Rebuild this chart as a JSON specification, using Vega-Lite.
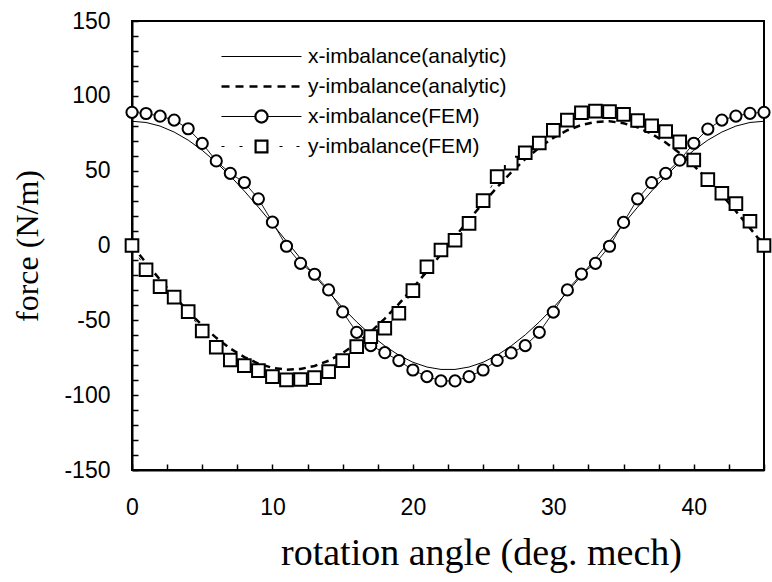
{
  "$schema": "https://vega.github.io/schema/vega-lite/v6.json",
  "width": 632,
  "height": 449,
  "autosize": "none",
  "padding": {"left": 132, "top": 21, "right": 8, "bottom": 112},
  "background": "white",
  "config": {
    "view": {"stroke": "black", "strokeWidth": 2},
    "axis": {
      "grid": false,
      "domainColor": "black",
      "domainWidth": 2,
      "tickColor": "black",
      "tickWidth": 1.5,
      "tickSize": -6,
      "labelFont": "Liberation Sans",
      "labelFontSize": 23,
      "labelColor": "black",
      "titleFont": "Liberation Serif",
      "titleFontWeight": "normal",
      "titleColor": "black"
    }
  },
  "datasets": {
    "curves": [
      {"angle": 0, "xa": 83, "ya": 0, "xf": 89, "yf": 0},
      {"angle": 1, "xa": 82.2, "ya": -11.6, "xf": 88.2, "yf": -16.2},
      {"angle": 2, "xa": 79.8, "ya": -22.9, "xf": 86.4, "yf": -27.5},
      {"angle": 3, "xa": 75.8, "ya": -33.8, "xf": 83.8, "yf": -34.5},
      {"angle": 4, "xa": 70.4, "ya": -44.0, "xf": 78, "yf": -44.2},
      {"angle": 5, "xa": 63.6, "ya": -53.4, "xf": 68.2, "yf": -57.1},
      {"angle": 6, "xa": 55.5, "ya": -61.7, "xf": 56.5, "yf": -68},
      {"angle": 7, "xa": 46.4, "ya": -68.8, "xf": 48.2, "yf": -76.5},
      {"angle": 8, "xa": 36.4, "ya": -74.6, "xf": 42.1, "yf": -80.3},
      {"angle": 9, "xa": 25.6, "ya": -78.9, "xf": 31.2, "yf": -83.6},
      {"angle": 10, "xa": 14.4, "ya": -81.7, "xf": 15.6, "yf": -87.6},
      {"angle": 11, "xa": 2.9, "ya": -83.0, "xf": -0.5, "yf": -89.8},
      {"angle": 12, "xa": -8.7, "ya": -82.5, "xf": -11.9, "yf": -89.5},
      {"angle": 13, "xa": -20.1, "ya": -80.5, "xf": -19.2, "yf": -88.3},
      {"angle": 14, "xa": -31.1, "ya": -77.0, "xf": -29.7, "yf": -84.3},
      {"angle": 15, "xa": -41.5, "ya": -71.9, "xf": -44.4, "yf": -76.9},
      {"angle": 16, "xa": -51.1, "ya": -65.4, "xf": -58, "yf": -67.6},
      {"angle": 17, "xa": -59.7, "ya": -57.7, "xf": -66.9, "yf": -60.9},
      {"angle": 18, "xa": -67.1, "ya": -48.8, "xf": -71.6, "yf": -55.3},
      {"angle": 19, "xa": -73.3, "ya": -39.0, "xf": -76.9, "yf": -45.3},
      {"angle": 20, "xa": -78.0, "ya": -28.4, "xf": -83.2, "yf": -30.2},
      {"angle": 21, "xa": -81.2, "ya": -17.3, "xf": -87.6, "yf": -14.2},
      {"angle": 22, "xa": -82.8, "ya": -5.8, "xf": -90.5, "yf": -3},
      {"angle": 23, "xa": -82.8, "ya": 5.8, "xf": -90.5, "yf": 3.5},
      {"angle": 24, "xa": -81.2, "ya": 17.3, "xf": -87.6, "yf": 14.8},
      {"angle": 25, "xa": -78.0, "ya": 28.4, "xf": -83.2, "yf": 30},
      {"angle": 26, "xa": -73.3, "ya": 39.0, "xf": -76.8, "yf": 46},
      {"angle": 27, "xa": -67.1, "ya": 48.8, "xf": -71.8, "yf": 55},
      {"angle": 28, "xa": -59.7, "ya": 57.7, "xf": -66.9, "yf": 62},
      {"angle": 29, "xa": -51.1, "ya": 65.4, "xf": -58, "yf": 68.5},
      {"angle": 30, "xa": -41.5, "ya": 71.9, "xf": -44.5, "yf": 77},
      {"angle": 31, "xa": -31.1, "ya": 77.0, "xf": -29.7, "yf": 83.8},
      {"angle": 32, "xa": -20.1, "ya": 80.5, "xf": -19.1, "yf": 88.7},
      {"angle": 33, "xa": -8.7, "ya": 82.5, "xf": -11.9, "yf": 89.8},
      {"angle": 34, "xa": 2.9, "ya": 83.0, "xf": -0.5, "yf": 89.4},
      {"angle": 35, "xa": 14.4, "ya": 81.7, "xf": 15.4, "yf": 87.6},
      {"angle": 36, "xa": 25.6, "ya": 78.9, "xf": 31.2, "yf": 83.5},
      {"angle": 37, "xa": 36.4, "ya": 74.6, "xf": 42, "yf": 80},
      {"angle": 38, "xa": 46.4, "ya": 68.8, "xf": 48.2, "yf": 76.2},
      {"angle": 39, "xa": 55.5, "ya": 61.7, "xf": 57, "yf": 69.2},
      {"angle": 40, "xa": 63.6, "ya": 53.4, "xf": 68.3, "yf": 57.1},
      {"angle": 41, "xa": 70.4, "ya": 44.0, "xf": 77.8, "yf": 44},
      {"angle": 42, "xa": 75.8, "ya": 33.8, "xf": 83.8, "yf": 34.9},
      {"angle": 43, "xa": 79.8, "ya": 22.9, "xf": 86.5, "yf": 28},
      {"angle": 44, "xa": 82.2, "ya": 11.6, "xf": 88.3, "yf": 16.2},
      {"angle": 45, "xa": 83, "ya": 0, "xf": 89, "yf": 0}
    ],
    "legendRows": [
      {"series": "x-imbalance(analytic)"},
      {"series": "y-imbalance(analytic)"},
      {"series": "x-imbalance(FEM)"},
      {"series": "y-imbalance(FEM)"}
    ]
  },
  "layer": [
    {
      "data": {"name": "curves"},
      "transform": [{"fold": ["xa", "ya", "xf", "yf"], "as": ["key", "force"]}],
      "encoding": {
        "x": {
          "field": "angle",
          "type": "quantitative",
          "scale": {"domain": [0, 45], "nice": false, "zero": false},
          "axis": {
            "values": [0, 2.5, 5, 7.5, 10, 12.5, 15, 17.5, 20, 22.5, 25, 27.5, 30, 32.5, 35, 37.5, 40, 42.5, 45],
            "labelExpr": "datum.value % 10 === 0 ? '' + datum.value : ''",
            "labelPadding": 32,
            "labelFlush": false,
            "labelOverlap": false,
            "title": "rotation angle (deg. mech)",
            "titleFontSize": 38,
            "titleX": 349,
            "titleY": 94,
            "titleAlign": "center",
            "titleBaseline": "alphabetic"
          }
        },
        "y": {
          "field": "force",
          "type": "quantitative",
          "scale": {"domain": [-150, 150], "nice": false, "zero": false},
          "axis": {
            "values": [-150, -140, -130, -120, -110, -100, -90, -80, -70, -60, -50, -40, -30, -20, -10, 0, 10, 20, 30, 40, 50, 60, 70, 80, 90, 100, 110, 120, 130, 140, 150],
            "labelExpr": "datum.value % 50 === 0 ? '' + datum.value : ''",
            "labelPadding": 28,
            "labelOverlap": false,
            "labelFlush": false,
            "title": "force (N/m)",
            "titleFontSize": 32,
            "titleAngle": -90,
            "titleX": -95,
            "titleY": 224.5,
            "titleAlign": "center",
            "titleBaseline": "alphabetic"
          }
        }
      },
      "layer": [
        {
          "transform": [{"filter": "datum.key === 'xa'"}],
          "mark": {"type": "line", "stroke": "black", "strokeWidth": 1}
        },
        {
          "transform": [{"filter": "datum.key === 'ya'"}],
          "mark": {"type": "line", "stroke": "black", "strokeWidth": 2.5, "strokeDash": [7, 5]}
        },
        {
          "transform": [{"filter": "datum.key === 'xf'"}],
          "mark": {"type": "line", "stroke": "black", "strokeWidth": 0.9}
        },
        {
          "transform": [{"filter": "datum.key === 'yf'"}],
          "mark": {"type": "line", "stroke": "black", "strokeWidth": 0.9, "strokeDash": [3, 11]}
        },
        {
          "transform": [{"filter": "datum.key === 'xf'"}],
          "mark": {"type": "point", "shape": "circle", "size": 125, "filled": true, "fill": "white", "stroke": "black", "strokeWidth": 2, "opacity": 1}
        },
        {
          "transform": [{"filter": "datum.key === 'yf'"}],
          "mark": {"type": "point", "shape": "square", "size": 160, "filled": true, "fill": "white", "stroke": "black", "strokeWidth": 2, "opacity": 1}
        }
      ]
    },
    {
      "data": {"name": "legendRows"},
      "mark": {"type": "point", "opacity": 0, "size": 0, "filled": false},
      "encoding": {
        "shape": {
          "field": "series",
          "type": "nominal",
          "sort": null,
          "scale": {
            "domain": ["x-imbalance(analytic)", "y-imbalance(analytic)", "x-imbalance(FEM)", "y-imbalance(FEM)"],
            "range": [
              "M-8,0H8",
              "M-8,-0.12H-6.4M-8,0.12H-6.4M-5.2,-0.12H-3.6M-5.2,0.12H-3.6M-2.4,-0.12H-0.8M-2.4,0.12H-0.8M0.4,-0.12H2M0.4,0.12H2M3.2,-0.12H4.8M3.2,0.12H4.8M6,-0.12H7.6M6,0.12H7.6",
              "M-8,0H-1.32M1.32,0H8M-1.32,0A1.32,1.32 0 1 0 1.32,0A1.32,1.32 0 1 0 -1.32,0ZM-1.12,0A1.12,1.12 0 1 0 1.12,0A1.12,1.12 0 1 0 -1.12,0Z",
              "M-8,0H-7.4M-4.4,0H-3.8M3.6,0H4.2M7,0H7.6M-1.28,-1.28H1.28V1.28H-1.28ZM-1.08,-1.08H1.08V1.08H-1.08Z"
            ]
          },
          "legend": {
            "title": null,
            "orient": "none",
            "legendX": 111,
            "legendY": 17,
            "padding": 8,
            "fillColor": "white",
            "symbolSize": 100,
            "symbolStrokeWidth": 1.2,
            "symbolStrokeColor": "black",
            "symbolFillColor": "white",
            "symbolOpacity": 1,
            "symbolOffset": 0,
            "labelFont": "Liberation Sans",
            "labelFontSize": 21,
            "labelColor": "black",
            "labelOffset": 36,
            "labelLimit": 400,
            "rowPadding": 8,
            "encode": {
              "symbols": {
                "update": {
                  "fill": {"value": "white"},
                  "stroke": {"value": "black"},
                  "strokeWidth": {"value": 1.2},
                  "opacity": {"value": 1},
                  "size": {"value": 100}
                }
              }
            }
          }
        }
      }
    }
  ]
}
